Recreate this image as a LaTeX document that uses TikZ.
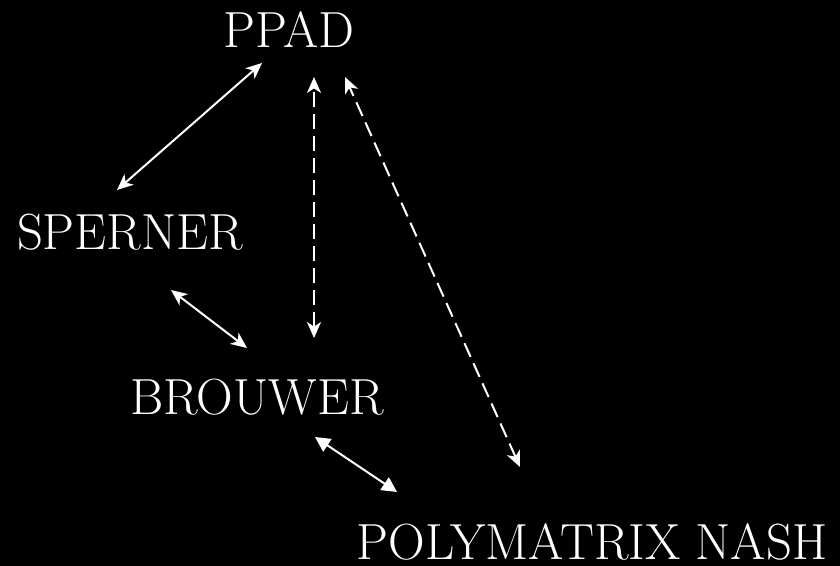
\documentclass[tikz,border=0pt]{standalone}
\usetikzlibrary{arrows,arrows.meta}
\begin{document}
\begin{tikzpicture}[x=0.5pt,y=-0.5pt,
  label/.style={text=white,inner sep=0pt,anchor=base,font=\fontsize{25.4}{30}\selectfont},
  link/.style={white,line width=1pt,{Stealth[length=8pt,width=7pt,inset=2.3pt]}-{Stealth[length=8pt,width=7pt,inset=2.3pt]}},
  dlink/.style={link,dash pattern=on 7.5pt off 3.5pt},
  tlink/.style={white,line width=1pt,{Triangle[length=7.5pt,width=7.5pt]}-{Triangle[length=7.5pt,width=7.5pt]}}]
  \fill[black] (0,0) rectangle (840,566);
  \useasboundingbox (0,0) rectangle (840,566);
  % problem names
  \node[label] (ppad) at (289,48) {PPAD};
  \node[label] (sperner) at (130,250) {SPERNER};
  \node[label] (brouwer) at (257,415) {BROUWER};
  \node[label] (nash) at (592,559) {POLYMATRIX NASH};
  % arrow end points
  \coordinate (p1) at (262,63);
  \coordinate (s1) at (117,190);
  \coordinate (p2) at (314,77);
  \coordinate (b2) at (314,338);
  \coordinate (p3) at (345,77);
  \coordinate (n3) at (520,467);
  \coordinate (s4) at (171,290);
  \coordinate (b4) at (247,348);
  \coordinate (b5) at (315,437);
  \coordinate (n5) at (397,492);
  % reductions
  \draw[link] (s1) -- (p1);
  \draw[dlink] (b2) -- (p2);
  \draw[dlink] (n3) -- (p3);
  \draw[link] (s4) -- (b4);
  \draw[tlink] (b5) -- (n5);
\end{tikzpicture}
\end{document}
